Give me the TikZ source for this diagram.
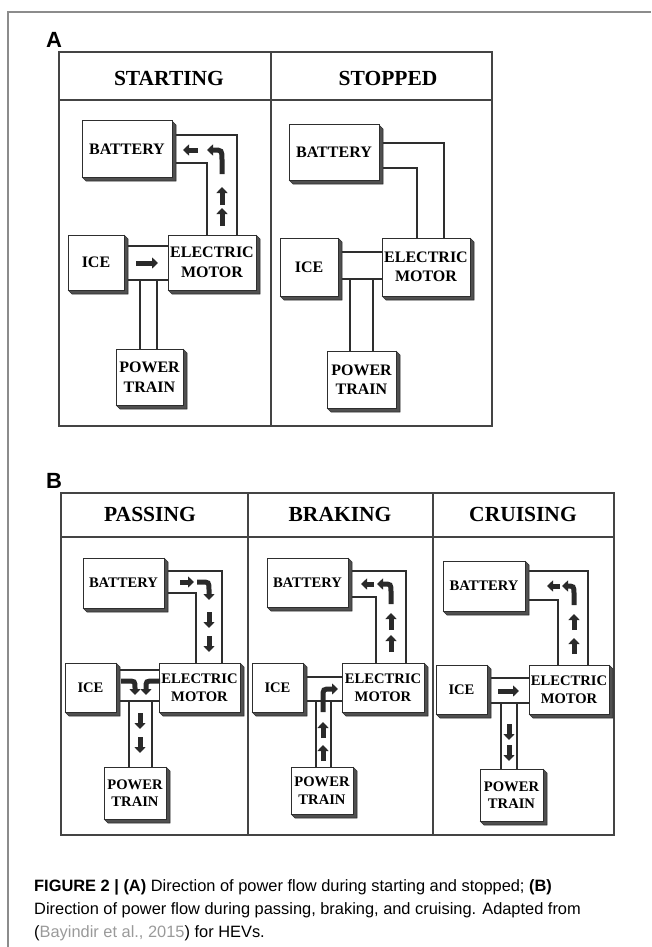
\documentclass[tikz,border=0pt]{standalone}
\usepackage{fontspec}
\setmainfont{Liberation Serif}
\newfontfamily\capfont{Liberation Sans}
\usetikzlibrary{arrows.meta,backgrounds}
\definecolor{shd}{HTML}{505050}
\definecolor{ln}{HTML}{2E2E2E}
\definecolor{arr}{HTML}{2A2A2A}
\definecolor{frm}{HTML}{444444}
\definecolor{pg}{HTML}{8C8C8C}
\definecolor{lnk}{HTML}{9A9A9A}
\tikzset{
 slab/.style={draw=ln, fill=white, line width=1pt, inner sep=0pt, align=center, font=\bfseries\fontsize{16}{19.5}\selectfont},
 slabB/.style={slab, font=\bfseries\fontsize{14.6}{17.5}\selectfont},
 wire/.style={draw=ln, line width=1.2pt},
 frameline/.style={draw=frm, line width=1.1pt},
 flow/.style={draw=arr, line width=5pt, -{Triangle[length=6pt,width=11pt]}},
 titletext/.style={font=\bfseries\fontsize{21.5}{24}\selectfont, inner sep=0pt},
 capline/.style={anchor=base west, inner sep=0pt, font=\capfont\fontsize{16.4}{19}\selectfont},
 plabel/.style={anchor=base west, inner sep=0pt, font=\capfont\bfseries\fontsize{22}{22}\selectfont},
}
\newcommand{\slab}[7]{%
 \fill[shd] (#5,#4) -- (#5+4,#4+4) -- (#5+4,#6+4) -- (#3+4,#6+4) -- (#3,#6) -- cycle;
 \draw[ln, line width=0.6pt] (#5,#4) -- (#5+4,#4+4) -- (#5+4,#6+4) -- (#3+4,#6+4) -- (#3,#6);
 \node[#1, minimum width={(#5-#3)*1pt}, minimum height={(#6-#4)*1pt}] (#2) at ({(#3+#5)/2},{(#4+#6)/2}) {#7};
}
\begin{document}
\begin{tikzpicture}[x=1pt,y=-1pt]
\useasboundingbox (0,0) rectangle (651,947);
% page lines
\draw[pg, line width=1.5pt] (8,947) -- (8,12) -- (651,12);
% labels
\node[plabel] (lA) at (46,48) {A};
\node[plabel] (lB) at (46,488) {B};
% panel A frame
\draw[frameline] (59,52) rectangle (492,426);
\draw[frameline] (59,100) -- (492,100);
\draw[frameline] (271,52) -- (271,426);
% panel B frame
\draw[frameline] (61,493) rectangle (614,835);
\draw[frameline] (61,537) -- (614,537);
\draw[frameline] (248,493) -- (248,835);
\draw[frameline] (433,493) -- (433,835);
% titles
\node[titletext] (t1) at (169,78) {STARTING};
\node[titletext] (t2) at (388,78) {STOPPED};
\node[titletext] (t3) at (150,514) {PASSING};
\node[titletext] (t4) at (340,514) {BRAKING};
\node[titletext] (t5) at (523,514) {CRUISING};
% ---- column A1: starting
\slab{slab}{b1}{82}{121}{172}{177}{BATTERY}
\slab{slab}{i1}{68}{235}{124}{290}{ICE}
\slab{slab}{m1}{168}{235}{256}{290}{ELECTRIC\\MOTOR}
\slab{slab}{p1}{116}{349}{183}{405}{POWER\\TRAIN}
% ---- column A2: stopped
\slab{slab}{b2}{289}{125}{379}{180}{BATTERY}
\slab{slab}{i2}{280}{238}{338}{296}{ICE}
\slab{slab}{m2}{382}{238}{470}{296}{ELECTRIC\\MOTOR}
\slab{slab}{p2}{327}{351}{396}{408}{POWER\\TRAIN}
% ---- column B1: passing
\slab{slabB}{b3}{83}{558}{164}{608}{BATTERY}
\slab{slabB}{i3}{65}{663}{116}{712}{ICE}
\slab{slabB}{m3}{159}{663}{240}{712}{ELECTRIC\\MOTOR}
\slab{slabB}{p3}{104}{767}{166}{819}{POWER\\TRAIN}
% ---- column B2: braking
\slab{slabB}{b4}{267}{558}{348}{607}{BATTERY}
\slab{slabB}{i4}{252}{663}{303}{712}{ICE}
\slab{slabB}{m4}{342}{663}{424}{712}{ELECTRIC\\MOTOR}
\slab{slabB}{p4}{291}{767}{353}{814}{POWER\\TRAIN}
% ---- column B3: cruising
\slab{slabB}{b5}{443}{561}{525}{611}{BATTERY}
\slab{slabB}{i5}{436}{665}{487}{714}{ICE}
\slab{slabB}{m5}{529}{665}{609}{714}{ELECTRIC\\MOTOR}
\slab{slabB}{p5}{480}{769}{543}{821}{POWER\\TRAIN}
% wires
\begin{pgfonlayer}{background}
% A1
\draw[wire] (b1.east |- 0,135) -| (m1.north -| 237,0);
\draw[wire] (b1.east |- 0,163) -| (m1.north -| 207,0);
\draw[wire] (i1.east |- 0,246) -- (m1.west |- 0,246);
\draw[wire] (i1.east |- 0,280) -- (m1.west |- 0,280);
\draw[wire] (p1.north -| 140,0) -- (140,280);
\draw[wire] (p1.north -| 157,0) -- (157,280);
% A2
\draw[wire] (b2.east |- 0,143) -| (m2.north -| 444,0);
\draw[wire] (b2.east |- 0,168) -| (m2.north -| 417,0);
\draw[wire] (i2.east |- 0,252) -- (m2.west |- 0,252);
\draw[wire] (i2.east |- 0,279) -- (m2.west |- 0,279);
\draw[wire] (p2.north -| 350,0) -- (350,279);
\draw[wire] (p2.north -| 373,0) -- (373,279);
% B1
\draw[wire] (b3.east |- 0,571) -| (m3.north -| 222,0);
\draw[wire] (b3.east |- 0,593) -| (m3.north -| 196,0);
\draw[wire] (i3.east |- 0,670) -- (m3.west |- 0,670);
\draw[wire] (i3.east |- 0,701) -- (m3.west |- 0,701);
\draw[wire] (p3.north -| 129,0) -- (129,701);
\draw[wire] (p3.north -| 152,0) -- (152,701);
% B2
\draw[wire] (b4.east |- 0,571) -| (m4.north -| 406,0);
\draw[wire] (b4.east |- 0,597) -| (m4.north -| 376,0);
\draw[wire] (i4.east |- 0,677) -- (m4.west |- 0,677);
\draw[wire] (i4.east |- 0,701) -- (m4.west |- 0,701);
\draw[wire] (p4.north -| 316,0) -- (316,701);
\draw[wire] (p4.north -| 331,0) -- (331,701);
% B3
\draw[wire] (b5.east |- 0,571) -| (m5.north -| 588,0);
\draw[wire] (b5.east |- 0,600) -| (m5.north -| 558,0);
\draw[wire] (i5.east |- 0,678) -- (m5.west |- 0,678);
\draw[wire] (i5.east |- 0,703) -- (m5.west |- 0,703);
\draw[wire] (p5.north -| 501,0) -- (501,703);
\draw[wire] (p5.north -| 517,0) -- (517,703);
\end{pgfonlayer}
% ---- flow arrows
% starting
\draw[flow] (198,150) -- (183,150);
\draw[flow] (222,174) -- (222,160) .. controls (222,150) .. (213,150) -- (207,150);
\draw[flow] (222,205) -- (222,187);
\draw[flow] (222,226) -- (222,208);
\draw[flow] (136,263) -- (158,263);
% passing
\draw[flow] (180,582) -- (194,582);
\draw[flow] (197,582) -- (201,582) .. controls (209,582) .. (209,590) -- (209,600);
\draw[flow] (209,612) -- (209,628);
\draw[flow] (209,636) -- (209,652);
\draw[flow] (121,681) -- (127,681) .. controls (135,681) .. (135,688) -- (135,695);
\draw[flow] (160,681) -- (154,681) .. controls (146,681) .. (146,688) -- (146,695);
\draw[flow] (140,713) -- (140,729);
\draw[flow] (140,737) -- (140,753);
% braking
\draw[flow] (374,584) -- (361,584);
\draw[flow] (391,604) -- (391,592) .. controls (391,584) .. (383,584) -- (377,584);
\draw[flow] (391,630) -- (391,613);
\draw[flow] (391,652) -- (391,635);
\draw[flow] (323,738) -- (323,722);
\draw[flow] (323,761) -- (323,745);
\draw[flow] (323,712) -- (323,697) .. controls (323,689) .. (331,689) -- (338,689);
% cruising
\draw[flow] (560,586) -- (547,586);
\draw[flow] (574,605) -- (574,594) .. controls (574,586) .. (566,586) -- (562,586);
\draw[flow] (574,630) -- (574,614);
\draw[flow] (574,654) -- (574,638);
\draw[flow] (498,691) -- (519,691);
\draw[flow] (509,724) -- (509,740);
\draw[flow] (509,745) -- (509,761);
% caption
\node[capline] (cap1) at (34,891) {\textbf{FIGURE 2 | (A)} Direction of power flow during starting and stopped; \textbf{(B)}};
\node[capline] (cap2) at (34,914) {Direction of power flow during passing, braking, and cruising. Adapted from};
\node[capline] (cap3) at (34,937) {(\textcolor{lnk}{Bayindir et al., 2015}) for HEVs.};
\end{tikzpicture}
\end{document}
